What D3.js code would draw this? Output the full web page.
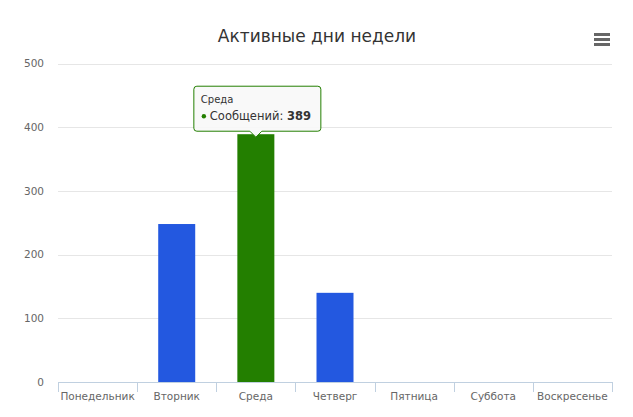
<!DOCTYPE html>
<html><head><meta charset="utf-8">
<script src="https://cdn.jsdelivr.net/npm/d3@7"></script>
<style>body{margin:0;background:#fff}svg{display:block;font-family:"DejaVu Sans",sans-serif}</style>
</head><body>
<svg id="c" width="633" height="417"></svg>
<script>
const categories = ["Понедельник","Вторник","Среда","Четверг","Пятница","Суббота","Воскресенье"];
const values = [0, 248, 389, 140, 0, 0, 0];
const yTicks = [0,100,200,300,400,500];
const title = "Активные дни недели";
const seriesName = "Сообщений";
const hoverIndex = 2;

const svg = d3.select("#c");
const m = {l:58, r:612, t:63.5, b:382};
const x = d3.scaleBand().domain(categories).range([m.l, m.r]).paddingInner(0).paddingOuter(0);
const y = d3.scaleLinear().domain([0,500]).range([m.b, m.t]);

svg.append("text").attr("x",317).attr("y",42).attr("text-anchor","middle")
  .attr("font-size",17).attr("fill","#333").text(title);

// grid
const yAxis = d3.axisLeft(y).tickValues(yTicks).tickSize(-(m.r-m.l)).tickPadding(14);
const gy = svg.append("g").attr("transform",`translate(${m.l},0)`).call(yAxis);
gy.select(".domain").remove();
gy.selectAll(".tick line").attr("stroke","#e6e6e6").attr("shape-rendering","crispEdges");
gy.selectAll(".tick text").attr("fill","#666").attr("font-size",10.5).attr("font-family","DejaVu Sans");

// bars
svg.append("g").selectAll("rect").data(values).join("rect")
  .attr("x",(d,i)=>x(categories[i]) + x.bandwidth()/2 - 18.5)
  .attr("width",37)
  .attr("y",d=>y(d)).attr("height",d=>y(0)-y(d))
  .attr("fill",(d,i)=> i===hoverIndex ? "#237f00" : "#2358e0");

// x axis
const xAxis = d3.axisBottom(x).tickSize(0).tickPadding(11);
const gx = svg.append("g").attr("transform",`translate(0,${m.b})`).call(xAxis);
gx.select(".domain").attr("stroke","#c0d0e0").attr("shape-rendering","crispEdges");
gx.selectAll(".tick text").attr("fill","#666").attr("font-size",10.5).attr("font-family","DejaVu Sans");
const bounds = categories.map(c=>x(c)).concat([m.r]);
svg.append("g").selectAll("line").data(bounds).join("line")
  .attr("x1",d=>Math.round(d)+0.5).attr("x2",d=>Math.round(d)+0.5)
  .attr("y1",m.b).attr("y2",m.b+10).attr("stroke","#c0d0e0");

// tooltip
const cx = x(categories[hoverIndex]) + x.bandwidth()/2;
const ty = y(values[hoverIndex]);
const bw = 127, bh = 45, bx = cx - 62, by = ty - 48;
const tip = svg.append("g");
tip.append("path")
  .attr("d",`M${bx+3},${by} H${bx+bw-3} Q${bx+bw},${by} ${bx+bw},${by+3} V${by+bh-3} Q${bx+bw},${by+bh} ${bx+bw-3},${by+bh} H${cx+6} L${cx},${by+bh+6} L${cx-6},${by+bh} H${bx+3} Q${bx},${by+bh} ${bx},${by+bh-3} V${by+3} Q${bx},${by} ${bx+3},${by} Z`)
  .attr("fill","rgba(249,249,249,0.92)").attr("stroke","#237f00").attr("stroke-width",1);
tip.append("text").attr("x",bx+7).attr("y",by+17).attr("font-size",10).attr("fill","#333").text(categories[hoverIndex]);
tip.append("circle").attr("cx",bx+10).attr("cy",by+30).attr("r",2.2).attr("fill","#237f00");
const t2 = tip.append("text").attr("x",bx+16).attr("y",by+34).attr("font-size",11.5).attr("fill","#333");
t2.append("tspan").text(seriesName + ": ");
t2.append("tspan").attr("font-weight","bold").text(values[hoverIndex]);

// menu icon
svg.append("g").selectAll("rect").data([0,1,2]).join("rect")
  .attr("x",594).attr("y",d=>33+d*5).attr("width",16).attr("height",3)
  .attr("fill","#666");
</script>
</body></html>
